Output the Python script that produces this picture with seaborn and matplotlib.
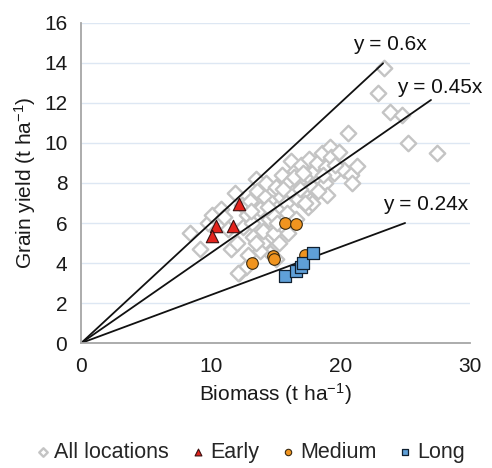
import matplotlib
matplotlib.use("Agg")
import matplotlib.pyplot as plt
import seaborn as sns
import pandas as pd
import numpy as np

# ---- data ----
all_x = [8.4, 9.2, 9.8, 10.1, 10.8, 11.0, 11.6, 12.2, 11.9, 12.4, 12.8, 12.5, 13.0, 13.2, 12.7,
         13.5, 13.6, 13.3, 13.8, 14.0, 14.2, 14.5, 14.3, 14.7, 14.0, 14.9, 15.2, 15.0, 15.4, 15.5,
         15.8, 15.9, 16.0, 16.2, 16.3, 16.5, 16.7, 16.8, 17.0, 17.2, 17.4, 17.6, 17.8, 18.0, 18.2,
         18.4, 18.6, 18.8, 18.9, 19.2, 19.3, 19.9, 19.5, 20.3, 20.8, 20.9, 21.3, 20.6, 22.9, 23.4,
         23.8, 24.8, 25.2, 27.5, 14.6, 15.0, 13.8, 16.0, 15.3, 17.5, 16.6, 19.0, 17.8, 12.0, 11.3,
         12.9, 13.5, 12.1, 14.8, 15.6, 16.9, 17.3, 18.3, 19.6, 13.1, 14.4, 16.4, 18.7, 15.1, 17.1]
all_y = [5.5, 4.7, 6.0, 6.4, 6.7, 6.3, 4.7, 3.5, 7.5, 6.9, 6.4, 5.8, 7.1, 6.0, 3.8,
         8.2, 7.6, 5.3, 6.7, 5.0, 7.3, 6.2, 8.0, 7.0, 5.6, 5.5, 6.8, 7.8, 7.3, 8.4,
         7.0, 6.5, 8.0, 9.1, 7.5, 8.6, 7.2, 8.1, 8.9, 7.6, 8.4, 9.2, 7.8, 8.6, 9.0,
         8.2, 9.5, 8.0, 8.8, 9.8, 9.3, 9.55, 8.5, 8.65, 8.4, 8.0, 8.85, 10.5, 12.5, 13.75,
         11.55, 11.4, 10.0, 9.5, 4.5, 4.2, 4.6, 5.5, 5.0, 6.8, 6.2, 7.4, 7.0, 5.0, 5.7,
         4.4, 5.0, 3.5, 6.4, 7.7, 7.7, 7.0, 7.6, 8.9, 6.6, 6.8, 8.3, 8.4, 6.0, 8.5]

early_x = [12.15, 10.4, 11.7, 10.1]
early_y = [6.95, 5.85, 5.85, 5.35]

medium_x = [15.7, 16.6, 13.2, 14.8, 14.85, 17.3]
medium_y = [6.0, 5.95, 4.0, 4.35, 4.2, 4.4]

long_x = [15.7, 16.6, 17.0, 17.1, 17.9]
long_y = [3.35, 3.6, 3.8, 4.0, 4.5]

slopes = [0.6, 0.45, 0.24]
line_xend = [23.3, 27.0, 25.0]
line_labels = ["y = 0.6x", "y = 0.45x", "y = 0.24x"]
label_pos = [(21.0, 14.9), (24.4, 12.75), (23.3, 6.9)]

x_ticks = [0, 10, 20, 30]
y_ticks = [0, 2, 4, 6, 8, 10, 12, 14, 16]

# ---- style ----
sns.set_theme(style="white")
plt.rcParams['font.family'] = ['Liberation Sans', 'DejaVu Sans']
plt.rcParams['mathtext.fontset'] = 'custom'
plt.rcParams['mathtext.rm'] = 'Liberation Sans'
plt.rcParams['mathtext.it'] = 'Liberation Sans:italic'

FS = 15
fig = plt.figure(figsize=(4.92, 4.68), dpi=100)
ax = fig.add_axes([0.165, 0.267, 0.79, 0.684])

ax.set_xlim(0, 30)
ax.set_ylim(0, 16)
ax.set_xticks(x_ticks)
ax.set_yticks(y_ticks)
ax.yaxis.grid(True, color="#dde7f3", lw=1.0)
ax.set_axisbelow(True)

for s in ["top", "right"]:
    ax.spines[s].set_visible(False)
for s in ["left", "bottom"]:
    ax.spines[s].set_color("#a6a6a6")
    ax.spines[s].set_linewidth(1.3)
ax.tick_params(axis="both", direction="out", length=5, width=1.2, color="#a6a6a6",
               labelsize=FS, labelcolor="#1a1a1a", pad=5)

# lines
for m, xe, lab, (lx, ly) in zip(slopes, line_xend, line_labels, label_pos):
    xs = np.array([0.0, xe])
    ax.plot(xs, m * xs, color="#111111", lw=1.3, zorder=2)
    ax.text(lx, ly, lab, fontsize=FS, color="#111111", va="center", ha="left")

df_all = pd.DataFrame({"x": all_x, "y": all_y})
df_e = pd.DataFrame({"x": early_x, "y": early_y})
df_m = pd.DataFrame({"x": medium_x, "y": medium_y})
df_l = pd.DataFrame({"x": long_x, "y": long_y})

sns.scatterplot(data=df_all, x="x", y="y", ax=ax, marker="D", s=62, facecolor="white",
                edgecolor="#c4c4c4", linewidth=1.7, zorder=1, label="All locations")
sns.scatterplot(data=df_e, x="x", y="y", ax=ax, marker="^", s=80, color="#e3231c",
                edgecolor="#3a1010", linewidth=0.8, zorder=3, label="Early")
sns.scatterplot(data=df_m, x="x", y="y", ax=ax, marker="o", s=70, color="#f0941f",
                edgecolor="#3a2a10", linewidth=0.8, zorder=3, label="Medium")
sns.scatterplot(data=df_l, x="x", y="y", ax=ax, marker="s", s=70, color="#5fa0d8",
                edgecolor="#102030", linewidth=0.9, zorder=4, label="Long")

ax.set_xlabel("Biomass (t ha$^{-1}$)", fontsize=FS, color="#1a1a1a", labelpad=4)
ax.set_ylabel("Grain yield (t ha$^{-1}$)", fontsize=FS, color="#1a1a1a", labelpad=4)

handles, labels = ax.get_legend_handles_labels()
ax.get_legend().remove()
fig.legend(handles, labels, loc="lower center", bbox_to_anchor=(0.505, -0.03), ncol=4,
           frameon=False, fontsize=15.5, handletextpad=0.05, columnspacing=0.85,
           handlelength=1.0, markerscale=0.55)

fig.savefig("out.png", dpi=100)
